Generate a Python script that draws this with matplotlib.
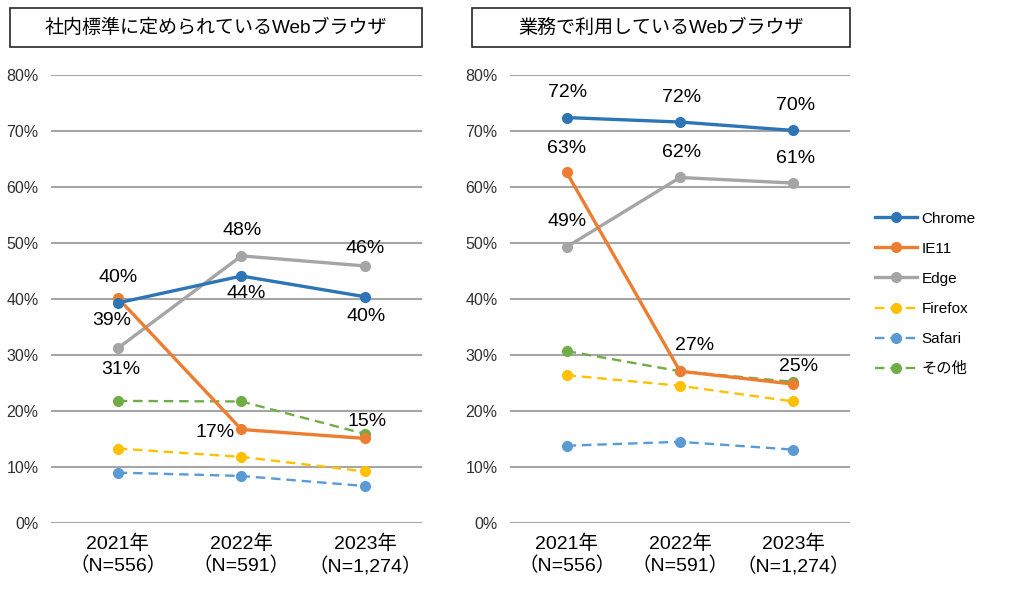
import matplotlib.pyplot as plt
from matplotlib.patches import Rectangle
from matplotlib.ticker import PercentFormatter

plt.rcParams['font.family'] = ['Liberation Sans', 'Noto Sans CJK JP', 'DejaVu Sans']

years = ['2021年\n（N=556）', '2022年\n（N=591）', '2023年\n（N=1,274）']
series = ['Chrome', 'IE11', 'Edge', 'Firefox', 'Safari', 'その他']

# 社内標準に定められているWebブラウザ
std_chrome = [39.3, 44.1, 40.4]
std_ie11 = [40.2, 16.7, 15.1]
std_edge = [31.2, 47.7, 45.9]
std_firefox = [13.3, 11.8, 9.2]
std_safari = [9.0, 8.4, 6.6]
std_other = [21.8, 21.7, 15.9]

# 業務で利用しているWebブラウザ
use_chrome = [72.4, 71.6, 70.1]
use_ie11 = [62.6, 27.1, 24.8]
use_edge = [49.3, 61.7, 60.7]
use_firefox = [26.4, 24.5, 21.7]
use_safari = [13.8, 14.5, 13.1]
use_other = [30.7, 27.1, 25.2]

colors = ['#2E75B6', '#ED7D31', '#A5A5A5', '#FFC000', '#5B9BD5', '#70AD47']
solid = [True, True, True, False, False, False]

# labels: (series index, point index, dx px, dy px)
std_labels = [(1, 0, 0, -20), (0, 0, -6, 18), (2, 0, 3, 21), (2, 1, 1, -25), (0, 1, 5, 17),
              (2, 2, 0, -17), (0, 2, 1, 20), (1, 1, -26, 3), (1, 2, 2, -17)]
use_labels = [(0, 0, 1, -25), (0, 1, 2, -25), (0, 2, 2, -25), (1, 0, 0, -24), (2, 1, 2, -25),
              (2, 2, 2, -25), (2, 0, 0, -25), (1, 1, 15, -26), (1, 2, 5, -18)]

W, H = 1030, 589
fig = plt.figure(figsize=(W / 100, H / 100), dpi=100)


def px_axes(x0, x1, y0, y1):
    return fig.add_axes([x0 / W, 1 - y1 / H, (x1 - x0) / W, (y1 - y0) / H])


def draw_panel(ax, data, labels, xlim):
    x = range(len(years))
    for i, vals in enumerate(data):
        v = [d / 100 for d in vals]
        ax.plot(x, v, color=colors[i], lw=2.4 if solid[i] else 1.7,
                ls='-' if solid[i] else (0, (4, 2.5)), marker='o', ms=7,
                label=series[i], clip_on=False, zorder=5 - i * 0.1 if solid[i] else 3)
    for s, p, dx, dy in labels:
        val = data[s][p]
        ax.annotate(f'{round(val):.0f}%', (p, val / 100), xytext=(dx * 0.72, -dy * 0.72),
                    textcoords='offset points', ha='center', va='center', fontsize=14, zorder=10)
    ax.set_ylim(0, 0.8)
    ax.set_xlim(*xlim)
    ax.set_yticks([i / 10 for i in range(9)])
    ax.yaxis.set_major_formatter(PercentFormatter(1.0, decimals=0))
    ax.set_xticks(list(x))
    ax.set_xticklabels(years, fontsize=14, linespacing=1.3)
    ax.tick_params(axis='y', length=0, pad=9, labelsize=11.5, colors='#303030')
    ax.tick_params(axis='x', length=0, pad=8)
    ax.grid(axis='y', color='#A6A6A6', lw=1.5)
    ax.set_axisbelow(True)
    for sp in ax.spines.values():
        sp.set_visible(False)


ax1 = px_axes(51, 422, 75, 523)
draw_panel(ax1, [std_chrome, std_ie11, std_edge, std_firefox, std_safari, std_other],
           std_labels, (-0.54, 2.46))
ax2 = px_axes(510, 850, 75, 523)
draw_panel(ax2, [use_chrome, use_ie11, use_edge, use_firefox, use_safari, use_other],
           use_labels, (-0.50, 2.50))

titles = ['社内標準に定められているWebブラウザ', '業務で利用しているWebブラウザ']
for (x0, x1), t in zip([(10, 422), (472, 850)], titles):
    fig.patches.append(Rectangle((x0 / W, 1 - 47 / H), (x1 - x0) / W, 39 / H,
                                 transform=fig.transFigure, fill=False, ec='#262626', lw=1.2))
    fig.text((x0 + x1) / 2 / W, 1 - 28 / H, t, ha='center', va='center', fontsize=13.7)

handles, lbls = ax2.get_legend_handles_labels()
fig.legend(handles, lbls, loc='upper left', bbox_to_anchor=(861 / W, 1 - 198 / H),
           frameon=False, fontsize=11, handlelength=2.75, labelspacing=1.05, handletextpad=0.3)

fig.savefig('out.png', dpi=100)
